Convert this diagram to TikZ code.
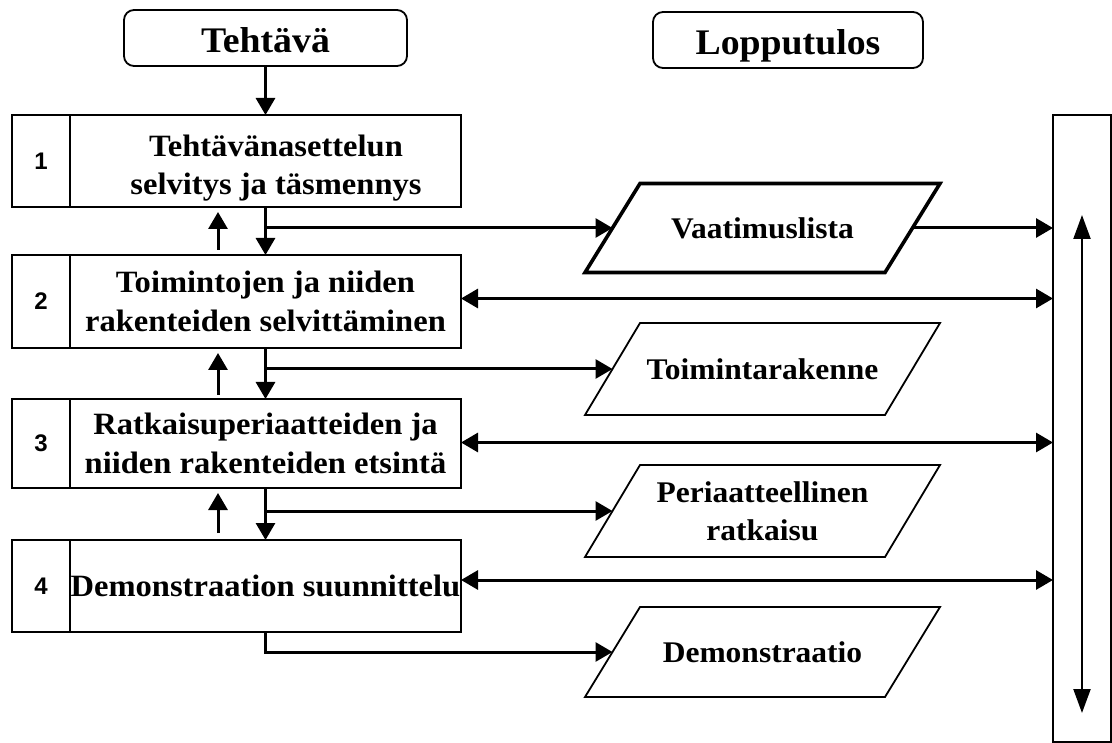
\documentclass[tikz,border=0pt]{standalone}
\usepackage{fontspec}
\setmainfont{Liberation Serif}[FakeStretch=1.05]
\newfontfamily\numfont{Liberation Sans}
\usetikzlibrary{arrows.meta}

\tikzset{
  head/.style={draw, line width=1.8pt, rounded corners=10pt, inner sep=0pt,
    text height=30pt, text depth=0pt,
    font=\fontsize{36}{40}\selectfont\bfseries},
  stage/.style={draw, line width=1.7pt, inner sep=0pt, outer sep=0pt,
    minimum width=391pt, align=center,
    font=\fontsize{31}{39}\selectfont\bfseries},
  stagetext/.style={inner sep=0pt, align=center,
    font=\fontsize{31}{38}\selectfont\bfseries},
  stagenum/.style={draw, line width=1.7pt, inner sep=0pt, outer sep=0pt,
    minimum width=58pt, font=\fontsize{24}{28}\selectfont\numfont\bfseries},
  % slanted result box: the node is the middle band, the outline is drawn round it
  result/.style={minimum width=300pt, minimum height=90pt, inner sep=0pt, outer sep=0pt,
    align=center, font=\fontsize{30}{38}\selectfont\bfseries},
  arr/.style={line width=3pt, -{Triangle[length=17pt,width=19pt]}},
  arrtwo/.style={line width=3pt, {Triangle[length=17pt,width=19pt]}-{Triangle[length=17pt,width=19pt]}},
  longarr/.style={line width=2.2pt, {Triangle[length=24pt,width=17pt]}-{Triangle[length=24pt,width=17pt]}}
}

\begin{document}
\begin{tikzpicture}[x=1pt, y=-1pt]
\useasboundingbox (0,0) rectangle (1112,743);

% column headings
\node[head, minimum width=283pt, minimum height=56pt] (task) at (265.5,38) {Tehtävä};
\node[head, minimum width=270pt, minimum height=56pt] (outcome) at (788,40) {Lopputulos};

% design stages
\node[stagenum, minimum height=92pt] (n1) at (41,161) {1};
\node[stage, minimum height=92pt] (b1) at (265.5,161) {};
\node[stagetext] (b1t) at (276,168) {Tehtävänasettelun\\selvitys ja täsmennys};
\node[stagenum, minimum height=93pt] (n2) at (41,301.5) {2};
\node[stage, minimum height=93pt] (b2) at (265.5,301.5) {Toimintojen ja niiden\\rakenteiden selvittäminen};
\node[stagenum, minimum height=89pt] (n3) at (41,443.5) {3};
\node[stage, minimum height=89pt] (b3) at (265.5,443.5) {Ratkaisuperiaatteiden ja\\niiden rakenteiden etsintä};
\node[stagenum, minimum height=92pt] (n4) at (41,586) {4};
\node[stage, minimum height=92pt] (b4) at (265.5,586) {Demonstraation suunnittelu};

% results
\node[result, minimum height=89pt] (r1) at (762.5,228) {Vaatimuslista};
\node[result, minimum height=92pt] (r2) at (762.5,369) {Toimintarakenne};
\node[result, minimum height=92pt] (r3) at (762.5,511) {Periaatteellinen\\ratkaisu};
\node[result, minimum height=90pt] (r4) at (762.5,652) {Demonstraatio};
\foreach \r/\w in {r1/3.6pt, r2/1.8pt, r3/1.8pt, r4/1.8pt}
  \draw[line width=\w, line join=miter]
    ([xshift=27.5pt]\r.north west) -- ([xshift=27.5pt]\r.north east)
    -- ([xshift=-27.5pt]\r.south east) -- ([xshift=-27.5pt]\r.south west) -- cycle;

% tall frame on the right
\node[draw, line width=1.6pt, minimum width=58pt, minimum height=627pt, inner sep=0pt, outer sep=0pt] (frame) at (1082,428.5) {};

% flow downwards
\draw[arr] (task.south) -- (b1.north);
\draw[arr] (b1.south) -- (b2.north);
\draw[arr] (b2.south) -- (b3.north);
\draw[arr] (b3.south) -- (b4.north);

% iteration back upwards
\draw[arr] ([xshift=-47.5pt,yshift=5pt]b2.north) -- ([xshift=-47.5pt,yshift=-5pt]b1.south);
\draw[arr] ([xshift=-47.5pt,yshift=4pt]b3.north) -- ([xshift=-47.5pt,yshift=-5pt]b2.south);
\draw[arr] ([xshift=-47.5pt,yshift=7pt]b4.north) -- ([xshift=-47.5pt,yshift=-5pt]b3.south);

% stage outputs
\draw[arr] (b1.south |- r1.west) -- (r1.west);
\draw[arr] (b2.south |- r2.west) -- (r2.west);
\draw[arr] (b3.south |- r3.west) -- (r3.west);
\draw[arr] (b4.south) |- (r4.west);

% links to the frame
\draw[arr] (r1.east) -- (r1.east -| frame.west);
\draw[arrtwo] ([yshift=3pt]b2.east) -- ([yshift=3pt]b2.east -| frame.west);
\draw[arrtwo] ([yshift=1pt]b3.east) -- ([yshift=1pt]b3.east -| frame.west);
\draw[arrtwo] ([yshift=6pt]b4.east) -- ([yshift=6pt]b4.east -| frame.west);

% arrow spanning the frame
\draw[longarr] ([yshift=-100pt]frame.north) -- ([yshift=29pt]frame.south);
\end{tikzpicture}
\end{document}
